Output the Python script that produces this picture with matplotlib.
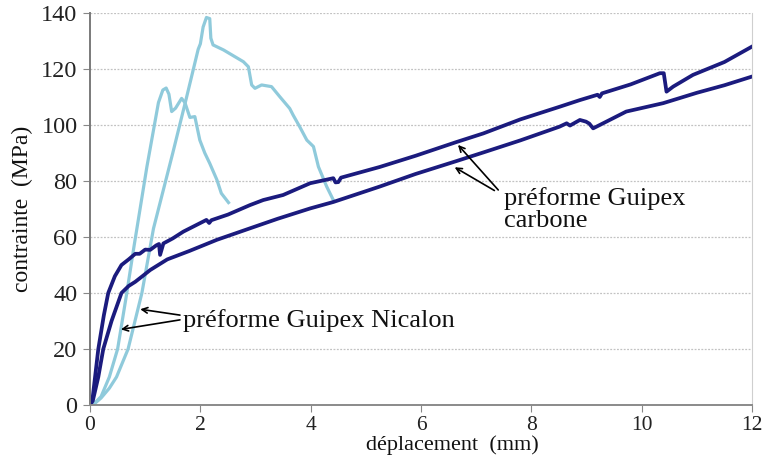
"""
Courbes contrainte / déplacement : préformes Guipex Nicalon et carbone.
"""
import matplotlib.pyplot as plt

# -----------------------------
# Données
# -----------------------------
# Nicalon, essai 1 (pic ~113 MPa)
nic1_x = [0, 0.1, 0.2, 0.35, 0.5, 0.65, 0.8, 1.03, 1.24, 1.32, 1.38, 1.43, 1.48,
          1.55, 1.66, 1.72, 1.81, 1.90, 1.99, 2.08, 2.17, 2.30, 2.38, 2.51]
nic1_y = [0, 1, 3, 10, 20, 38, 57, 85, 108, 112.5, 113.2, 111, 104.8,
          106, 109.5, 108, 102.7, 103, 94.6, 90, 86.3, 80.4, 75.6, 72.3]

# Nicalon, essai 2 (pic ~138 MPa)
nic2_x = [0, 0.1, 0.2, 0.35, 0.48, 0.69, 0.94, 1.15, 1.5, 1.745, 1.96, 2.0, 2.05,
          2.11, 2.17, 2.19, 2.23, 2.42, 2.78, 2.87, 2.93, 2.99, 3.11, 3.29, 3.44,
          3.62, 3.68, 3.80, 3.93, 4.05, 4.14, 4.29, 4.41]
nic2_y = [0, 0.8, 2.5, 6, 10, 20, 40, 63, 90, 109.5, 127, 129, 135,
          138.4, 138, 131, 128.6, 126.8, 122.6, 120.8, 114.3, 113.1, 114.3, 113.7, 110.1,
          105.9, 103.6, 99.4, 94.6, 92.3, 85.1, 78, 73.2]

# Carbone, essai 1 (courbe haute)
carb1_x = [0, 0.05, 0.15, 0.25, 0.33, 0.45, 0.57, 0.7, 0.82, 0.9, 1.0, 1.09, 1.2,
           1.25, 1.27, 1.33, 1.5, 1.69, 1.9, 2.11, 2.16, 2.2, 2.5, 2.9, 3.14, 3.5,
           3.99, 4.41, 4.45, 4.5, 4.55, 5.25, 5.9, 6.64, 7.13, 7.8, 8.51, 8.88, 9.2,
           9.24, 9.28, 9.8, 10.33, 10.4, 10.45, 10.57, 10.93, 11.5, 12.0]
carb1_y = [0, 3, 20, 32, 40, 46, 50, 52, 54, 54, 55.5, 55.4, 57,
           57.5, 53.6, 57.7, 59.5, 61.9, 64, 66.1, 65, 66, 68, 71.4, 73.2, 75,
           79.2, 81, 79.5, 79.6, 81.2, 85, 89, 93.9, 97, 102, 106.5, 108.9, 110.8,
           110, 111.3, 114.5, 118.5, 118.5, 111.9, 113.7, 117.9, 122.5, 128]

# Carbone, essai 2 (courbe basse)
carb2_x = [0, 0.05, 0.15, 0.24, 0.39, 0.57, 0.7, 0.82, 0.95, 1.09, 1.4, 1.8, 2.3,
           2.9, 3.4, 3.99, 4.41, 5.25, 5.9, 6.64, 7.13, 7.8, 8.51, 8.64, 8.7, 8.88,
           8.99, 9.05, 9.12, 9.3, 9.72, 10.39, 11.0, 11.5, 12.0]
carb2_y = [0, 1.5, 10, 20, 30, 40, 42.5, 44, 46, 48.2, 52, 55, 59,
           63.1, 66.5, 70.2, 72.5, 78, 82.5, 87.1, 90.2, 94.5, 99.4, 100.6, 99.8, 101.8,
           101.2, 100.5, 98.8, 100.6, 104.8, 107.8, 111.5, 114.2, 117.3]

x_ticks = [0, 2, 4, 6, 8, 10, 12]
y_ticks = [0, 20, 40, 60, 80, 100, 120, 140]

COULEUR_NICALON = "#8FCADB"
COULEUR_CARBONE = "#1B1B7E"

plt.rcParams["font.family"] = ["Liberation Serif", "DejaVu Serif"]

fig = plt.figure(figsize=(7.63, 4.61), dpi=100)
ax = fig.add_axes([0.118, 0.1215, 0.8676, 0.8503])

# grille horizontale pointillée
for y in y_ticks[1:]:
    ax.axhline(y, color="#c2c2c2", lw=0.9, ls=(0, (1.5, 1.2)), zorder=0)

ax.plot(nic1_x, nic1_y, color=COULEUR_NICALON, lw=2.3, solid_joinstyle="round")
ax.plot(nic2_x, nic2_y, color=COULEUR_NICALON, lw=2.3, solid_joinstyle="round")
ax.plot(carb1_x, carb1_y, color=COULEUR_CARBONE, lw=2.7, solid_joinstyle="round")
ax.plot(carb2_x, carb2_y, color=COULEUR_CARBONE, lw=2.7, solid_joinstyle="round")

ax.set_xlim(0, 12)
ax.set_ylim(0, 140)
ax.set_xticks(x_ticks)
ax.set_yticks(y_ticks)
ax.tick_params(axis="x", direction="out", length=5, color="#888888",
               labelsize=15.5, pad=3, labelcolor="#222222")
ax.tick_params(axis="y", direction="out", length=5, color="#888888",
               labelsize=17.5, pad=4, labelcolor="#222222")

ax.spines["top"].set_visible(False)
ax.spines["left"].set_color("#7a7a7a")
ax.spines["bottom"].set_color("#8a8a8a")
ax.spines["right"].set_color("#cfcfcf")
for s in ["left", "bottom"]:
    ax.spines[s].set_linewidth(1.4)

ax.set_xlabel("déplacement  (mm)", fontsize=16, color="#111111")
ax.xaxis.set_label_coords(0.547, -0.078)
ax.set_ylabel("contrainte  (MPa)", fontsize=17, labelpad=6, color="#111111")

# annotations
fleche = dict(arrowstyle="->", color="black", lw=1.2, shrinkA=0, shrinkB=0)
ax.text(1.685, 27.8, "préforme Guipex Nicalon", fontsize=19, va="baseline",
        ha="left", color="#111111")
ax.annotate("", xy=(0.91, 34.2), xytext=(1.63, 32.1), arrowprops=fleche)
ax.annotate("", xy=(0.56, 27.0), xytext=(1.63, 30.4), arrowprops=fleche)

ax.text(7.5, 71.4, "préforme Guipex", fontsize=19, va="baseline", ha="left",
        color="#111111")
ax.text(7.5, 63.7, "carbone", fontsize=19, va="baseline", ha="left",
        color="#111111")
ax.annotate("", xy=(6.67, 92.9), xytext=(7.40, 76.8), arrowprops=fleche)
ax.annotate("", xy=(6.61, 84.9), xytext=(7.33, 76.6), arrowprops=fleche)

fig.savefig("out.png", dpi=100)
